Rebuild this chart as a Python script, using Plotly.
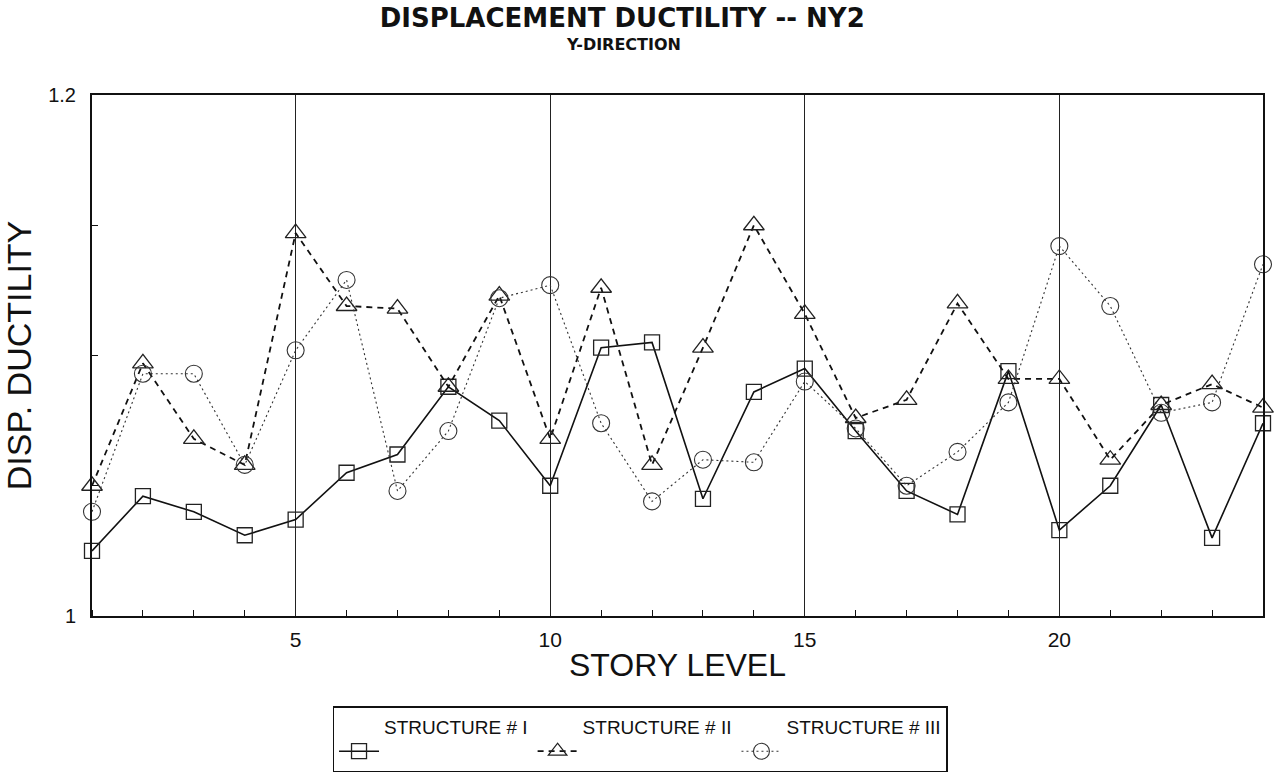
import plotly.graph_objects as go

# Story levels and displacement ductility per structure
story = list(range(1, 25))
structure_1 = [1.025, 1.046, 1.040, 1.031, 1.037, 1.055, 1.062, 1.088, 1.075, 1.050,
               1.103, 1.105, 1.045, 1.086, 1.095, 1.071, 1.048, 1.039, 1.094, 1.033,
               1.050, 1.081, 1.030, 1.074]
structure_2 = [1.050, 1.097, 1.068, 1.058, 1.147, 1.119, 1.118, 1.088, 1.123, 1.068,
               1.126, 1.058, 1.103, 1.150, 1.116, 1.076, 1.083, 1.120, 1.091, 1.091,
               1.060, 1.081, 1.089, 1.080]
structure_3 = [1.040, 1.093, 1.093, 1.058, 1.102, 1.129, 1.048, 1.071, 1.122, 1.127,
               1.074, 1.044, 1.060, 1.059, 1.090, 1.072, 1.050, 1.063, 1.082, 1.142,
               1.119, 1.078, 1.082, 1.135]
series_names = ["STRUCTURE # I", "STRUCTURE # II", "STRUCTURE # III"]

FONT = "Liberation Sans, Arial, sans-serif"
TITLE_FONT = "DejaVu Sans, Liberation Sans, sans-serif"

# legend entries get a second (blank) line so the box is taller and the
# line sample sits low, under the level of the label
legend_labels = [n + "<br>&nbsp;" for n in series_names]

fig = go.Figure()
fig.add_trace(go.Scatter(
    x=story, y=structure_1, name=legend_labels[0], mode="lines+markers",
    line=dict(color="#111111", width=1.6, dash="solid"),
    marker=dict(symbol="square-open", size=15, color="#222222", line=dict(width=1.3)),
    cliponaxis=False,
))
fig.add_trace(go.Scatter(
    x=story, y=structure_2, name=legend_labels[1], mode="lines+markers",
    line=dict(color="#111111", width=1.8, dash="6px,5px"),
    marker=dict(symbol="triangle-up-open", size=18, color="#222222", line=dict(width=1.3)),
    cliponaxis=False,
))
fig.add_trace(go.Scatter(
    x=story, y=structure_3, name=legend_labels[2], mode="lines+markers",
    line=dict(color="#333333", width=1.1, dash="2px,3px"),
    marker=dict(symbol="circle-open", size=17, color="#333333", line=dict(width=1.1)),
    cliponaxis=False,
))

fig.update_layout(
    width=1283, height=783,
    paper_bgcolor="white", plot_bgcolor="white",
    margin=dict(l=92, r=20, t=95, b=166),
    font=dict(family=FONT, color="#111111"),
    title=dict(
        text="<b>DISPLACEMENT DUCTILITY -- NY2</b>",
        x=0.485, xanchor="center", y=0.977, yanchor="middle",
        font=dict(family=TITLE_FONT, size=26, color="#111111"),
    ),
    annotations=[dict(
        text="<b>Y-DIRECTION</b>", xref="paper", yref="paper",
        x=0.4535, y=1.096, xanchor="center", yanchor="middle",
        showarrow=False, font=dict(family=TITLE_FONT, size=16, color="#111111"),
    )],
    showlegend=True,
    legend=dict(
        orientation="h", x=0.468, xanchor="center", y=-0.234, yanchor="middle",
        bordercolor="#111111", borderwidth=1.5, bgcolor="white",
        font=dict(family=FONT, size=19, color="#111111"),
        itemwidth=40, tracegroupgap=0, valign="bottom",
    ),
)

fig.update_xaxes(
    range=[1, 24], tick0=0, dtick=5,
    showgrid=True, gridcolor="#222222", gridwidth=1,
    zeroline=False,
    showline=True, linecolor="#111111", linewidth=2, mirror=True,
    ticks="", tickfont=dict(family=FONT, size=21, color="#111111"),
    ticklabelstandoff=4,
    minor=dict(dtick=1, ticks="inside", ticklen=6, tickcolor="#111111", showgrid=False),
    title=dict(text="STORY LEVEL", font=dict(family=FONT, size=32, color="#111111"), standoff=3),
)
fig.update_yaxes(
    range=[1, 1.2], tick0=1, dtick=0.2,
    showgrid=False, zeroline=False,
    showline=True, linecolor="#111111", linewidth=2, mirror=True,
    ticks="", tickfont=dict(family=FONT, size=20, color="#111111"),
    ticklabelstandoff=10,
    minor=dict(dtick=0.05, ticks="inside", ticklen=6, tickcolor="#111111", showgrid=False),
    title=dict(text="DISP. DUCTILITY", font=dict(family=FONT, size=34, color="#111111"), standoff=6),
)

fig.write_html("out.html")
